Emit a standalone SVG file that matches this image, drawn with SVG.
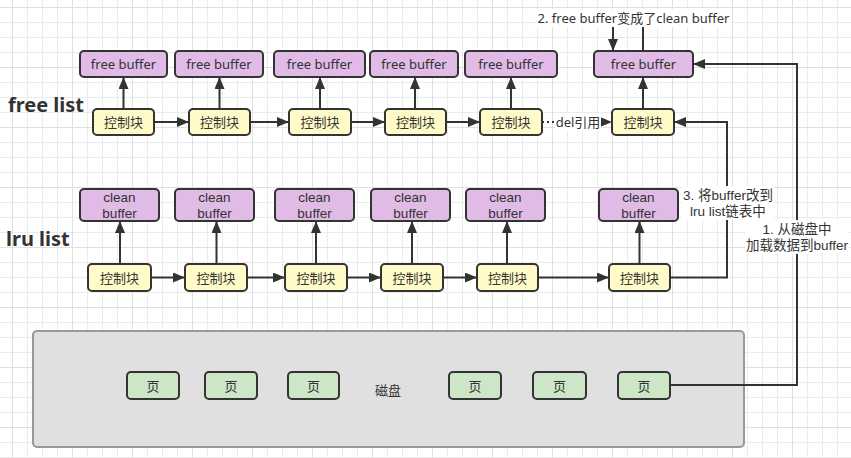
<svg xmlns="http://www.w3.org/2000/svg" width="851" height="458" viewBox="0 0 851 458">
<defs>
<pattern id="g" x="12" y="7" width="15" height="15" patternUnits="userSpaceOnUse">
<path d="M0.5,0 V15 M0,0.5 H15" stroke="#ebebeb" stroke-width="1" fill="none"/>
</pattern>
<pattern id="G" x="12" y="7" width="60" height="60" patternUnits="userSpaceOnUse">
<path d="M0.5,0 V60 M0,0.5 H60" stroke="#e0e0e0" stroke-width="1" fill="none"/>
</pattern>
<marker id="ar" markerWidth="12" markerHeight="10" refX="11" refY="5" orient="auto" markerUnits="userSpaceOnUse">
<path d="M0,0 L12,5 L0,10 Z" fill="#333"/>
</marker>
</defs>
<style>
.buf{fill:#dfbbe6;stroke:#333;stroke-width:2}
.ctl{fill:#fffac8;stroke:#333;stroke-width:2}
.pg{fill:#cde6c8;stroke:#333;stroke-width:2}
.t{font-family:"Noto Sans","Noto Sans CJK SC",sans-serif;font-size:13px;fill:#333;text-anchor:middle;dominant-baseline:central}
.t2{font-family:"Liberation Sans","Noto Sans CJK SC",sans-serif;font-size:13.5px;fill:#333;text-anchor:middle;dominant-baseline:central}
.h{font-family:"Noto Sans","Noto Sans CJK SC",sans-serif;font-size:20px;font-weight:bold;fill:#333;dominant-baseline:central}
.e{fill:none;stroke:#333;stroke-width:2}
.lb{fill:#fff}
</style>
<rect width="851" height="458" fill="#fff"/>
<rect width="851" height="458" fill="url(#g)"/>
<rect width="851" height="458" fill="url(#G)"/>

<text class="h" x="8" y="104">free list</text>
<text class="h" x="6" y="238">lru list</text>

<g id="disk">
<rect x="33" y="331" width="711" height="116" rx="4" fill="#e0e0e0" stroke="#999" stroke-width="2"/>
<text class="t" x="388" y="390">磁盘</text>
</g>

<g id="connectors">
<path class="e" d="M123.5,109 V78" marker-end="url(#ar)"/>
<path class="e" d="M219.5,109 V78" marker-end="url(#ar)"/>
<path class="e" d="M320,109 V78" marker-end="url(#ar)"/>
<path class="e" d="M415,109 V78" marker-end="url(#ar)"/>
<path class="e" d="M511,109 V78" marker-end="url(#ar)"/>
<path class="e" d="M643,109 V78" marker-end="url(#ar)"/>
<path class="e" d="M154,122 H188" marker-end="url(#ar)"/>
<path class="e" d="M250,122 H288" marker-end="url(#ar)"/>
<path class="e" d="M351,122 H384" marker-end="url(#ar)"/>
<path class="e" d="M446,122 H479" marker-end="url(#ar)"/>
<path class="e" d="M542,122 H611" stroke-dasharray="2,3" marker-end="url(#ar)"/>
<path class="e" d="M120,264 V222" marker-end="url(#ar)"/>
<path class="e" d="M216.5,264 V222" marker-end="url(#ar)"/>
<path class="e" d="M316,264 V222" marker-end="url(#ar)"/>
<path class="e" d="M412,264 V222" marker-end="url(#ar)"/>
<path class="e" d="M507,264 V222" marker-end="url(#ar)"/>
<path class="e" d="M639.5,264 V222" marker-end="url(#ar)"/>
<path class="e" d="M151,277.5 H184" marker-end="url(#ar)"/>
<path class="e" d="M247,277.5 H284" marker-end="url(#ar)"/>
<path class="e" d="M347,277.5 H380" marker-end="url(#ar)"/>
<path class="e" d="M443,277.5 H476" marker-end="url(#ar)"/>
<path class="e" d="M538,277.5 H608" marker-end="url(#ar)"/>
<path class="e" d="M670,277.5 H727 V122 H675" marker-end="url(#ar)"/>
<path class="e" d="M670,385 H797 V64 H694" marker-end="url(#ar)"/>
<path class="e" d="M643,51 V14 H613 V50" marker-end="url(#ar)"/>
<rect class="lb" x="555" y="113" width="46" height="18"/>
<text class="t" x="578" y="122">del引用</text>
<rect class="lb" x="536" y="9" width="195" height="18"/>
<text class="t" x="633.5" y="18">2. free buffer变成了clean buffer</text>
<rect class="lb" x="682" y="186" width="92" height="34"/>
<text class="t2" x="728" y="195">3. 将buffer改到</text>
<text class="t2" x="728" y="211">lru list链表中</text>
<rect class="lb" x="745" y="220" width="104" height="34"/>
<text class="t2" x="797" y="229">1. 从磁盘中</text>
<text class="t2" x="797" y="245">加载数据到buffer</text>
</g>

<g id="fb1"><rect class="buf" x="80" y="51" width="87" height="26" rx="4"/><text class="t" x="123.5" y="64">free buffer</text></g>
<g id="fb2"><rect class="buf" x="175" y="51" width="88" height="26" rx="4"/><text class="t" x="219" y="64">free buffer</text></g>
<g id="fb3"><rect class="buf" x="274" y="51" width="91" height="26" rx="4"/><text class="t" x="319.5" y="64">free buffer</text></g>
<g id="fb4"><rect class="buf" x="370" y="51" width="88" height="26" rx="4"/><text class="t" x="414" y="64">free buffer</text></g>
<g id="fb5"><rect class="buf" x="465" y="51" width="92" height="26" rx="4"/><text class="t" x="511" y="64">free buffer</text></g>
<g id="fb6"><rect class="buf" x="594" y="51" width="99" height="26" rx="4"/><text class="t" x="643.5" y="64">free buffer</text></g>

<g id="fc1"><rect class="ctl" x="93" y="109" width="61" height="26" rx="4"/><text class="t" x="123.5" y="122">控制块</text></g>
<g id="fc2"><rect class="ctl" x="189" y="109" width="61" height="26" rx="4"/><text class="t" x="219.5" y="122">控制块</text></g>
<g id="fc3"><rect class="ctl" x="289" y="109" width="62" height="26" rx="4"/><text class="t" x="320" y="122">控制块</text></g>
<g id="fc4"><rect class="ctl" x="385" y="109" width="61" height="26" rx="4"/><text class="t" x="415.5" y="122">控制块</text></g>
<g id="fc5"><rect class="ctl" x="480" y="109" width="62" height="26" rx="4"/><text class="t" x="511" y="122">控制块</text></g>
<g id="fc6"><rect class="ctl" x="612" y="109" width="62" height="26" rx="4"/><text class="t" x="643" y="122">控制块</text></g>

<g id="cb1"><rect class="buf" x="80" y="189" width="79" height="32" rx="4"/><text class="t2" x="119.5" y="197">clean</text><text class="t2" x="119.5" y="213">buffer</text></g>
<g id="cb2"><rect class="buf" x="175" y="189" width="79" height="32" rx="4"/><text class="t2" x="214.5" y="197">clean</text><text class="t2" x="214.5" y="213">buffer</text></g>
<g id="cb3"><rect class="buf" x="275" y="189" width="79" height="32" rx="4"/><text class="t2" x="314.5" y="197">clean</text><text class="t2" x="314.5" y="213">buffer</text></g>
<g id="cb4"><rect class="buf" x="371" y="189" width="79" height="32" rx="4"/><text class="t2" x="410.5" y="197">clean</text><text class="t2" x="410.5" y="213">buffer</text></g>
<g id="cb5"><rect class="buf" x="466" y="189" width="79" height="32" rx="4"/><text class="t2" x="505.5" y="197">clean</text><text class="t2" x="505.5" y="213">buffer</text></g>
<g id="cb6"><rect class="buf" x="599" y="189" width="79" height="32" rx="4"/><text class="t2" x="638.5" y="197">clean</text><text class="t2" x="638.5" y="213">buffer</text></g>

<g id="lc1"><rect class="ctl" x="88" y="264" width="63" height="27" rx="4"/><text class="t" x="119.5" y="277.5">控制块</text></g>
<g id="lc2"><rect class="ctl" x="185" y="264" width="62" height="27" rx="4"/><text class="t" x="216" y="277.5">控制块</text></g>
<g id="lc3"><rect class="ctl" x="285" y="264" width="62" height="27" rx="4"/><text class="t" x="316" y="277.5">控制块</text></g>
<g id="lc4"><rect class="ctl" x="381" y="264" width="62" height="27" rx="4"/><text class="t" x="412" y="277.5">控制块</text></g>
<g id="lc5"><rect class="ctl" x="477" y="264" width="61" height="27" rx="4"/><text class="t" x="507.5" y="277.5">控制块</text></g>
<g id="lc6"><rect class="ctl" x="609" y="264" width="61" height="27" rx="4"/><text class="t" x="639.5" y="277.5">控制块</text></g>

<g id="p1"><rect class="pg" x="127" y="372" width="52" height="27" rx="4"/><text class="t" x="153" y="385.5">页</text></g>
<g id="p2"><rect class="pg" x="205" y="372" width="52" height="27" rx="4"/><text class="t" x="231" y="385.5">页</text></g>
<g id="p3"><rect class="pg" x="288" y="372" width="51" height="27" rx="4"/><text class="t" x="313.5" y="385.5">页</text></g>
<g id="p4"><rect class="pg" x="449" y="372" width="52" height="27" rx="4"/><text class="t" x="475" y="385.5">页</text></g>
<g id="p5"><rect class="pg" x="533" y="372" width="53" height="27" rx="4"/><text class="t" x="559.5" y="385.5">页</text></g>
<g id="p6"><rect class="pg" x="618" y="372" width="52" height="27" rx="4"/><text class="t" x="644" y="385.5">页</text></g>
</svg>
